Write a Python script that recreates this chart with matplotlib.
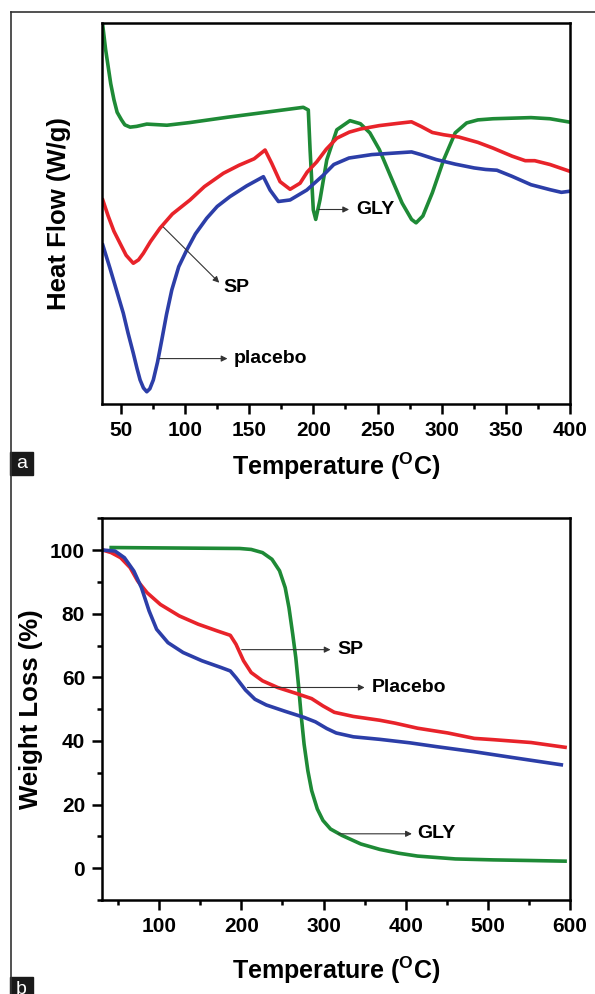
import numpy as np
import matplotlib.pyplot as plt
from matplotlib.lines import Line2D
from matplotlib.patches import Rectangle

plt.rcParams['font.family'] = ['Liberation Sans', 'DejaVu Sans']
plt.rcParams['font.weight'] = 'bold'
plt.rcParams['mathtext.fontset'] = 'custom'
plt.rcParams['mathtext.rm'] = 'Liberation Sans:bold'
plt.rcParams['mathtext.bf'] = 'Liberation Sans:bold'

GREEN = '#1e8a36'
RED = '#e8232a'
BLUE = '#2c3ea8'

# ---- panel a : DSC (heat flow in arbitrary units, 0 = bottom, 100 = top) ----
dsc_gly_t = [35.6, 38, 40, 42, 44.5, 47, 50.4, 53, 57.1, 62.2, 70.1, 85.8, 103.6, 133, 162.7,
             192.1, 196, 197.4, 199.9, 201.8, 205.1, 210.4, 218.2, 228.5, 236.6, 244,
             251.4, 260.2, 269.1, 276.5, 280, 285.3, 292.7, 301.6, 310.5, 319.4, 328.2,
             340, 369.6, 384.4, 400]
dsc_gly_v = [99.8, 93, 88.5, 84, 79.8, 76.5, 74.5, 73.2, 72.6, 72.8, 73.4, 73.1, 73.8, 75.2, 76.5,
             77.8, 77.1, 66.6, 50.9, 48.4, 53.5, 64.0, 71.9, 74.3, 73.5, 71.1,
             66.7, 59.7, 52.7, 48.4, 47.5, 49.3, 55.4, 64.1, 71.1, 73.7, 74.5,
             74.8, 75.1, 74.8, 73.9]

dsc_sp_t = [35.8, 40, 44.5, 49.3, 54, 59.6, 63.7, 67.4, 73, 80.4, 90, 103.8, 115, 129.8, 142,
            153.8, 162.3, 167.5, 174, 181.8, 189.6, 195.1, 202.6, 210, 218.2, 228,
            236.5, 251.3, 266, 276.4, 283.8, 292.7, 301.6, 313.4, 328.2, 340, 354.8,
            365.1, 372.5, 384.4, 400]
dsc_sp_v = [53.5, 49.3, 45.3, 42.1, 39.0, 36.9, 37.8, 39.5, 42.6, 46.1, 49.8, 53.5, 57.0, 60.5, 62.6,
            64.3, 66.6, 63.1, 58.3, 56.3, 57.9, 60.8, 63.5, 66.8, 69.7, 71.3,
            72.1, 73.0, 73.6, 74.0, 72.8, 71.2, 70.6, 70.0, 68.6, 67.1, 65.0,
            63.8, 63.8, 62.8, 61.0]

dsc_pl_t = [35.8, 41.5, 47.4, 51.8, 55.5, 59.6, 62.5, 64.9, 67.5, 70.1, 72.5, 75.2, 78.5,
            81.8, 85.5, 89.6, 95, 101.3, 108, 116.8, 125, 135, 148, 161, 166.2, 172.7,
            181.8, 194.8, 207.7, 215.9, 227.7, 245.5, 263.1, 276.5, 283.8, 295.7, 310.5,
            325.3, 334.2, 343, 354.8, 369.6, 384.4, 393.3, 400]
dsc_pl_v = [41.7, 35.5, 28.8, 23.8, 18.6, 13.3, 9.3, 6.3, 4.2, 3.2, 4.0, 6.3, 11.0,
            16.8, 23.5, 29.9, 36.0, 40.4, 44.6, 48.7, 51.8, 54.4, 57.2, 59.6, 56.1, 53.1,
            53.5, 56.1, 60.0, 62.8, 64.5, 65.4, 65.8, 66.1, 65.4, 64.1, 62.9,
            61.9, 61.5, 61.3, 59.7, 57.5, 56.2, 55.5, 55.8]

# ---- panel b : TGA ----
tga_gly_t = [41.5, 92.2, 198, 211.9, 225.7, 237.2, 246.4, 253.3, 257.9, 262.5, 266.2, 269.4,
             272.6, 276.3, 280.9, 285.5, 292.4, 299.3, 308.5, 322.4, 345.4, 368.4, 391.4,
             414.4, 460.5, 506.5, 552.6, 594]
tga_gly_v = [100.8, 100.7, 100.5, 100.2, 99.2, 97.1, 93.5, 88.2, 81.9, 73.5, 66.2, 57.8,
             48.4, 39.0, 30.6, 24.4, 18.6, 15.0, 12.3, 10.3, 7.6, 5.9, 4.7,
             3.8, 2.9, 2.6, 2.4, 2.2]

tga_sp_t = [31.4, 41.5, 53, 64.5, 73.7, 85.2, 101.4, 124.4, 147.4, 170.4, 186.5, 193.4,
            202.6, 211.9, 225.7, 244.1, 267.1, 285.5, 299.3, 313.1, 336.2, 368.4, 386.8,
            414.4, 451.3, 483.5, 506.5, 552.6, 594]
tga_sp_v = [100, 99.2, 97.6, 94.5, 90.3, 86.6, 82.9, 79.3, 76.7, 74.6, 73.2, 70.4,
            65.2, 61.5, 58.9, 56.8, 54.9, 53.3, 51.0, 49.0, 47.7, 46.5, 45.6,
            44.0, 42.5, 40.8, 40.4, 39.5, 38.0]

tga_pl_t = [31.4, 46.1, 57.6, 69.1, 78.3, 87.6, 96.8, 110.6, 129, 152, 175, 186.5, 193.4,
            205, 216.5, 230.3, 253.3, 276.3, 290.1, 303.9, 315.4, 336.2, 368.4, 405.2,
            437.5, 483.5, 529.5, 589.4]
tga_pl_v = [100, 99.7, 97.6, 93.4, 88.2, 80.9, 75.1, 70.9, 67.8, 65.2, 63.1, 62.0, 59.9,
            56.0, 53.1, 51.3, 49.3, 47.4, 46.0, 43.9, 42.5, 41.3, 40.5, 39.4,
            38.2, 36.6, 34.8, 32.5]

fig = plt.figure(figsize=(5.95, 9.94), dpi=100)
ax1 = fig.add_axes([0.171, 0.5936, 0.787, 0.3836])
ax2 = fig.add_axes([0.171, 0.0946, 0.787, 0.384])

lw = 2.6
ax1.plot(dsc_gly_t, dsc_gly_v, color=GREEN, lw=lw, solid_joinstyle='round')
ax1.plot(dsc_sp_t, dsc_sp_v, color=RED, lw=lw, solid_joinstyle='round')
ax1.plot(dsc_pl_t, dsc_pl_v, color=BLUE, lw=lw, solid_joinstyle='round')
ax1.set_xlim(35, 400)
ax1.set_ylim(0, 100)
ax1.set_xticks(np.arange(50, 401, 50))
ax1.set_xticks(np.arange(75, 401, 50), minor=True)
ax1.set_yticks([])
ax1.set_ylabel('Heat Flow (W/g)', fontsize=18.5, fontweight='bold', labelpad=22)
ax1.set_xlabel(r'Temperature ($^{\mathrm{O}}$C)', fontsize=18, fontweight='bold', labelpad=8)

ax2.plot(tga_gly_t, tga_gly_v, color=GREEN, lw=lw, solid_joinstyle='round')
ax2.plot(tga_sp_t, tga_sp_v, color=RED, lw=lw, solid_joinstyle='round')
ax2.plot(tga_pl_t, tga_pl_v, color=BLUE, lw=lw, solid_joinstyle='round')
ax2.set_xlim(30, 600)
ax2.set_ylim(-10, 110)
ax2.set_xticks(np.arange(100, 601, 100))
ax2.set_xticks(np.arange(50, 601, 100), minor=True)
ax2.set_yticks(np.arange(0, 101, 20))
ax2.set_yticks(np.arange(-10, 111, 10), minor=True)
ax2.set_ylabel('Weight Loss (%)', fontsize=18.5, fontweight='bold', labelpad=5)
ax2.set_xlabel(r'Temperature ($^{\mathrm{O}}$C)', fontsize=18, fontweight='bold', labelpad=14)

for ax in (ax1, ax2):
    for s in ax.spines.values():
        s.set_linewidth(1.8)
    ax.tick_params(which='major', direction='out', length=7, width=1.8, labelsize=15, pad=5)
    ax.tick_params(which='minor', direction='out', length=3.5, width=1.8)
    for lab in ax.get_xticklabels() + ax.get_yticklabels():
        lab.set_fontweight('bold')

arrow = dict(arrowstyle='-|>', color='#333333', lw=0.8, mutation_scale=9, shrinkA=0, shrinkB=0)
ax1.annotate('', xy=(227.8, 51.0), xytext=(204.1, 51.0), arrowprops=arrow)
ax1.text(233.6, 51.0, 'GLY', fontsize=14, fontweight='bold', va='center')
ax1.annotate('', xy=(126.6, 31.8), xytext=(83, 46.4), arrowprops=arrow)
ax1.text(130, 30.5, 'SP', fontsize=14, fontweight='bold', va='center')
ax1.annotate('', xy=(133, 11.9), xytext=(80, 11.9), arrowprops=arrow)
ax1.text(137.6, 11.9, 'placebo', fontsize=14, fontweight='bold', va='center')

ax2.annotate('', xy=(308.5, 68.7), xytext=(200.3, 68.7), arrowprops=arrow)
ax2.text(316.8, 68.7, 'SP', fontsize=14, fontweight='bold', va='center')
ax2.annotate('', xy=(350, 56.8), xytext=(207.3, 56.8), arrowprops=arrow)
ax2.text(358.3, 56.8, 'Placebo', fontsize=14, fontweight='bold', va='center')
ax2.annotate('', xy=(407.5, 10.8), xytext=(317.8, 10.8), arrowprops=arrow)
ax2.text(413.5, 10.8, 'GLY', fontsize=14, fontweight='bold', va='center')

# outer frame and panel letters
W, H = 595.0, 994.0
fig.add_artist(Line2D([10.7 / W, 10.7 / W], [1 - 11.7 / H, 0], transform=fig.transFigure,
                      color='#333333', lw=1.2))
fig.add_artist(Line2D([10.7 / W, 1], [1 - 11.7 / H, 1 - 11.7 / H], transform=fig.transFigure,
                      color='#333333', lw=1.2))
for letter, top in (('a', 452), ('b', 977)):
    fig.add_artist(Rectangle((10 / W, 1 - (top + 23) / H), 23 / W, 23 / H,
                             transform=fig.transFigure, color='#1a1a1a'))
    fig.text(21.5 / W, 1 - (top + 12) / H, letter, color='white', fontsize=14,
             fontweight='normal', ha='center', va='center')

fig.savefig('out.png', dpi=100)
